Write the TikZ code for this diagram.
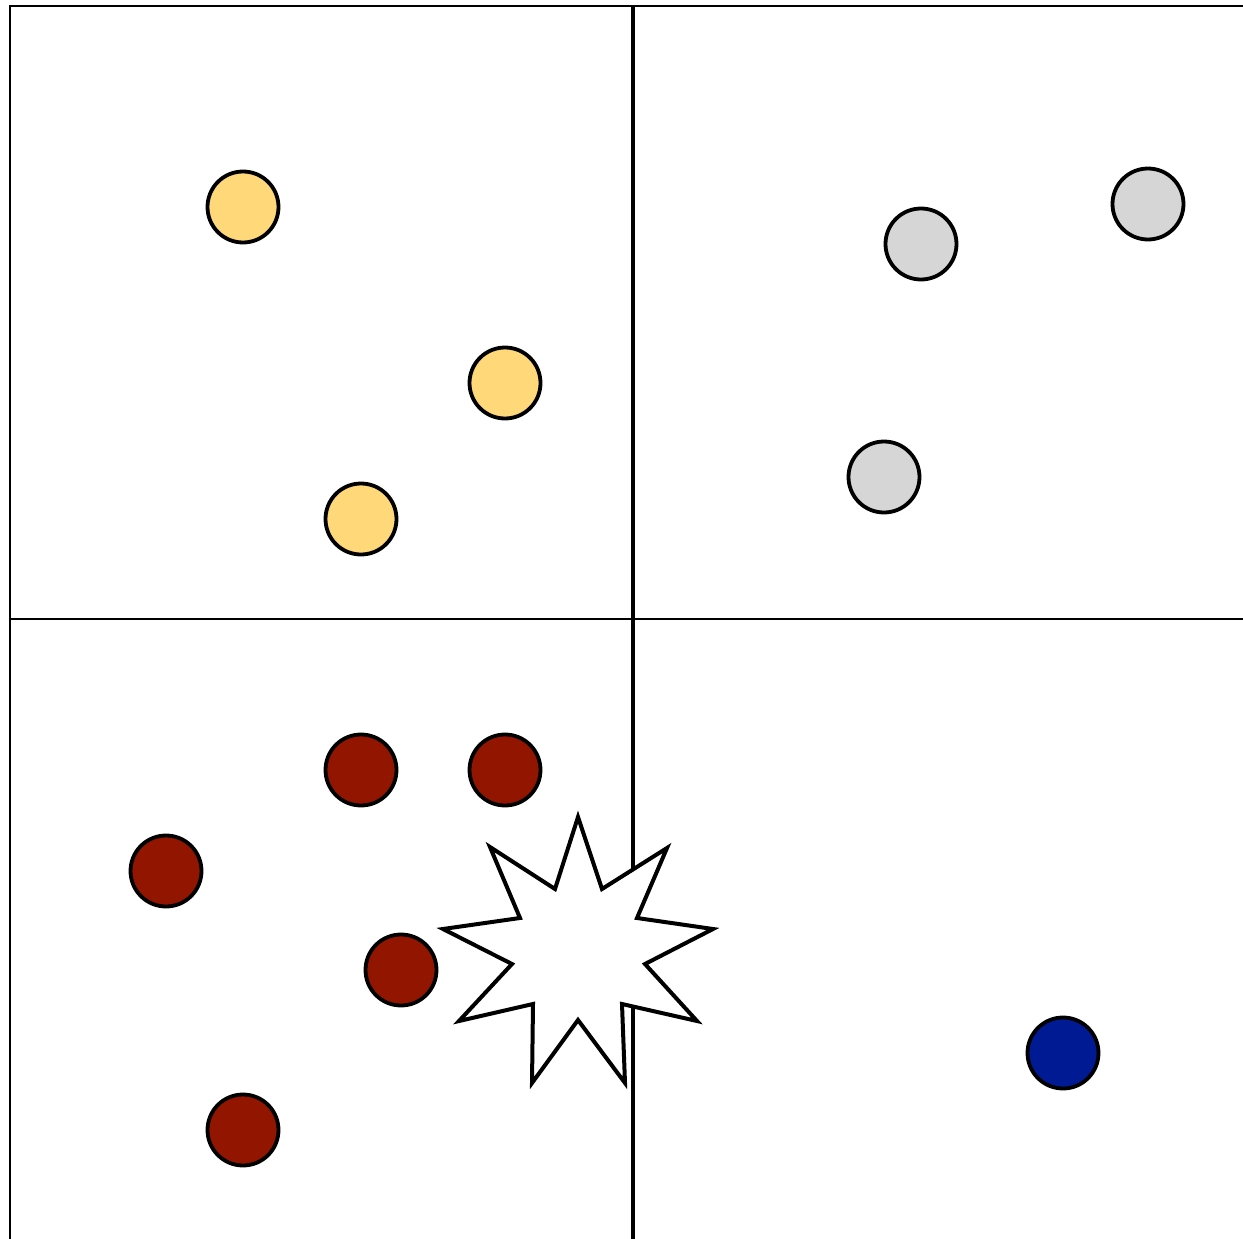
\documentclass[tikz,border=0pt]{standalone}
\definecolor{cyel}{HTML}{FFD87A}
\definecolor{cgray}{HTML}{D6D6D6}
\definecolor{cred}{HTML}{921500}
\definecolor{cblue}{HTML}{001A94}
\tikzset{
  dot/.style={circle, draw=black, line width=3.8pt, minimum size=71pt, inner sep=0pt},
  ydot/.style={dot, fill=cyel},
  gdot/.style={dot, fill=cgray},
  rdot/.style={dot, fill=cred},
  bdot/.style={dot, fill=cblue},
  grid line/.style={draw=black, line width=2.6pt},
  center line/.style={draw=black, line width=3.6pt}
}
\begin{document}
\begin{tikzpicture}[x=1pt,y=-1pt]
\useasboundingbox (0,0) rectangle (1243,1239);
\fill[white] (0,0) rectangle (1243,1239);
% frame
\coordinate (tl) at (10,6);
\coordinate (tr) at (1243,6);
\coordinate (bl) at (10,1239);
\coordinate (mt) at (633,6);
\coordinate (mb) at (633,1239);
\coordinate (ml) at (10,619);
\coordinate (mr) at (1243,619);
\draw[grid line] (bl) -- (tl) -- (tr);
\draw[grid line] (ml) -- (mr);
\draw[center line] (mt) -- (mb);
% yellow
\node[ydot] (y1) at (243,207) {};
\node[ydot] (y2) at (505,383) {};
\node[ydot] (y3) at (361,519) {};
% gray
\node[gdot] (g1) at (921,244) {};
\node[gdot] (g2) at (1148,204) {};
\node[gdot] (g3) at (884,477) {};
% red
\node[rdot] (r1) at (361,770) {};
\node[rdot] (r2) at (505,770) {};
\node[rdot] (r3) at (166,871) {};
\node[rdot] (r4) at (401,970) {};
\node[rdot] (r5) at (243,1130) {};
% blue
\node[bdot] (b1) at (1063,1053) {};
% star
\draw[fill=white, line width=4pt, line join=miter]
  (578,817) -- (602,889) -- (667,848) -- (637,918) -- (713,929) -- (645,964)
  -- (697,1021) -- (622,1004) -- (625,1083) -- (578,1020) -- (532,1083)
  -- (533,1004) -- (459,1021) -- (512,964) -- (443,929) -- (520,918)
  -- (490,847) -- (555,889) -- cycle;
\end{tikzpicture}
\end{document}
